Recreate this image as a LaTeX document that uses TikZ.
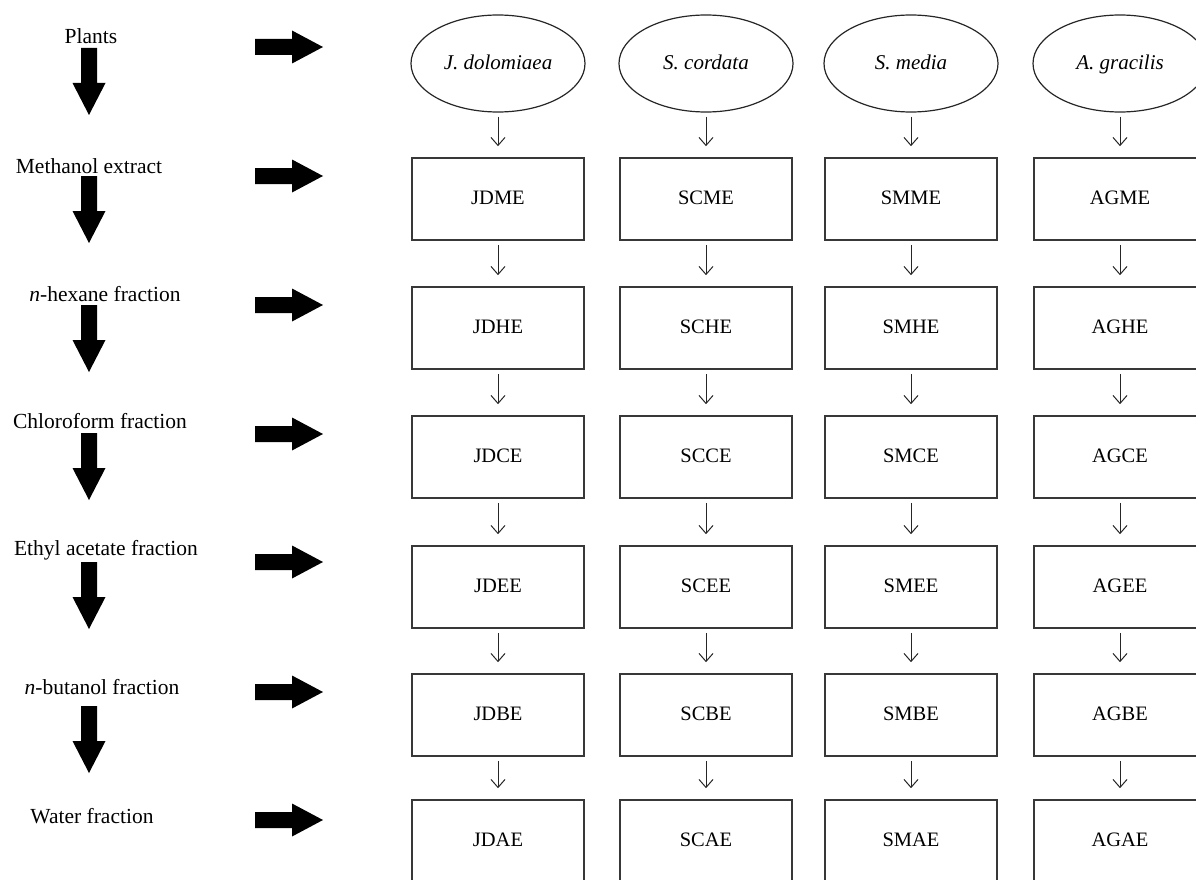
\documentclass[tikz,border=0pt]{standalone}
\usepackage{fontspec}
\setmainfont{Liberation Serif}
\usetikzlibrary{arrows.meta,shapes.geometric}
\begin{document}
\begin{tikzpicture}[x=1pt,y=-1pt,
  txt/.style={font=\fontsize{21.5}{25}\selectfont, inner sep=0pt},
  spec/.style={draw=black!85, ellipse, minimum width=174pt, minimum height=97pt,
    line width=1.2pt, inner sep=0pt, text height=14pt, text depth=2pt,
    font=\fontsize{21}{25}\selectfont\itshape},
  fbox/.style={draw=black!78, rectangle, minimum width=172pt, minimum height=82pt,
    line width=1.6pt, inner sep=0pt, text height=14pt, text depth=3pt,
    font=\fontsize{20.5}{24}\selectfont},
  flowarr/.style={draw=black!85, line width=1pt,
    -{Straight Barb[length=8pt,width=14pt]}, shorten <=4pt, shorten >=11pt},
  bigR/.pic={\fill[black] (0,-8) -- (37,-8) -- (37,-16.5) -- (68,0) -- (37,16.5) -- (37,8) -- (0,8) -- cycle;},
  bigD/.pic={\fill[black] (-8,0) -- (8,0) -- (8,35) -- (16.5,35) -- (0,67) -- (-16.5,35) -- (-8,35) -- cycle;}
]
\useasboundingbox (0,0) rectangle (1196,880);
\clip (0,0) rectangle (1196,880);

% left labels
\node[txt, anchor=base] (lP) at (91,44) {Plants};
\node[txt, anchor=base] (lM) at (89,173) {Methanol extract};
\node[txt, anchor=base] (lH) at (105,301) {\textit{n}-hexane fraction};
\node[txt, anchor=base] (lC) at (100,428) {Chloroform fraction};
\node[txt, anchor=base] (lE) at (106,555) {Ethyl acetate fraction};
\node[txt, anchor=base] (lB) at (102,694) {\textit{n}-butanol fraction};
\node[txt, anchor=base] (lW) at (92,823) {Water fraction};

% big down arrows
\foreach \t in {48,176,305,433,562,706} {
  \pic at (89,\t) {bigD};
}
% big right arrows
\foreach \t in {47,176,305,434,562,692,820} {
  \pic at (255,\t) {bigR};
}

% columns
\foreach \c/\x/\nm in {JD/498/{J. dolomiaea}, SC/706/{S. cordata}, SM/911/{S. media}, AG/1120/{A. gracilis}} {
  \node[spec] (\c-sp) at (\x,63.5) {\nm};
  \node[fbox] (\c-ME) at (\x,199) {\c ME};
  \node[fbox] (\c-HE) at (\x,328) {\c HE};
  \node[fbox] (\c-CE) at (\x,457) {\c CE};
  \node[fbox] (\c-EE) at (\x,587) {\c EE};
  \node[fbox] (\c-BE) at (\x,715) {\c BE};
  \node[fbox] (\c-AE) at (\x,841) {\c AE};
  \draw[flowarr] (\c-sp.south) -- (\c-ME.north);
  \draw[flowarr] (\c-ME.south) -- (\c-HE.north);
  \draw[flowarr] (\c-HE.south) -- (\c-CE.north);
  \draw[flowarr] (\c-CE.south) -- (\c-EE.north);
  \draw[flowarr] (\c-EE.south) -- (\c-BE.north);
  \draw[flowarr] (\c-BE.south) -- (\c-AE.north);
}
\end{tikzpicture}
\end{document}
